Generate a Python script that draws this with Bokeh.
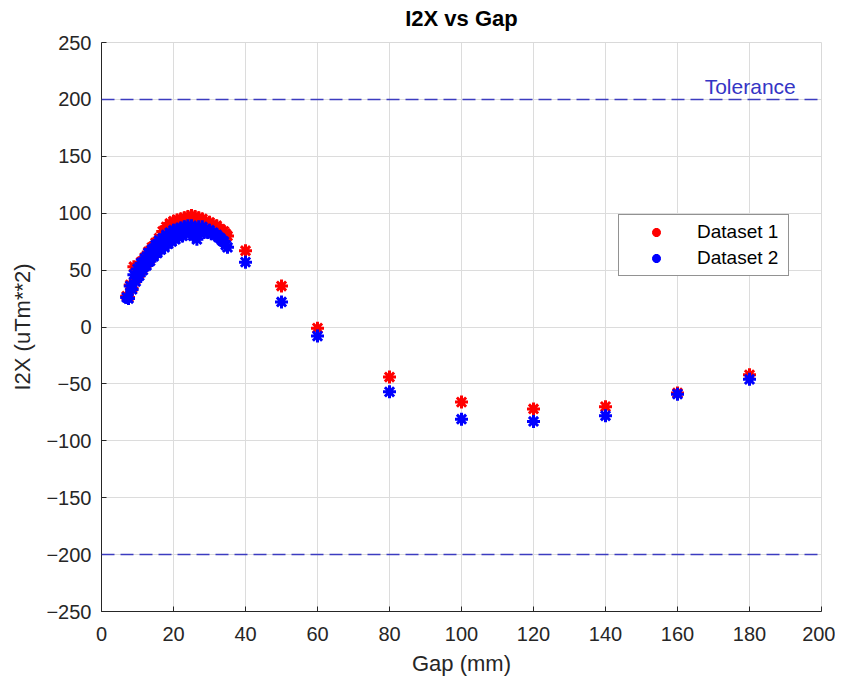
from bokeh.plotting import figure
from bokeh.models import Span, Label, Legend, LegendItem, FixedTicker, Range1d, LinearAxis
from bokeh.embed import file_html
from bokeh.resources import INLINE

# ---- data ----
gap_dense = [7.0, 7.5, 8.0, 8.5, 9.0, 9.5, 10.0, 10.5, 11.0, 11.5, 12.0, 12.5, 13.0, 13.5,
             14.0, 14.5, 15.0, 15.5, 16.0, 16.5, 17.0, 17.5, 18.0, 18.5, 19.0, 19.5, 20.0,
             20.5, 21.0, 21.5, 22.0, 22.5, 23.0, 23.5, 24.0, 24.5, 25.0, 25.5, 26.0, 26.5,
             27.0, 27.5, 28.0, 28.5, 29.0, 29.5, 30.0, 30.5, 31.0, 31.5, 32.0, 32.5, 33.0,
             33.5, 34.0, 34.5, 35.0]
gap_sparse = [40, 50, 60, 80, 100, 120, 140, 160, 180]

d1_dense = [27, 26, 37, 34, 53, 42, 52, 47, 57, 52, 61, 56, 66, 60,
            70, 64, 74, 68, 78, 74, 84, 80, 88, 84, 91, 87, 93,
            89, 94, 90, 95, 91, 96, 92, 97, 93, 98, 94, 97, 93,
            96, 92, 95, 91, 93, 90, 92, 89, 90, 87, 89, 86, 86,
            84, 84, 82, 80]
d2_dense = [26, 25, 36, 33, 46, 40, 51, 45, 56, 50, 60, 54, 65, 58,
            68, 62, 72, 65, 76, 68, 78, 70, 81, 73, 83, 75, 85,
            77, 86, 79, 87, 80, 88, 82, 89, 83, 89, 80, 84, 77,
            88, 82, 88, 83, 86, 83, 85, 82, 83, 81, 81, 79, 78,
            76, 75, 72, 70]
d1_sparse = [67, 36, -1, -44, -66, -72, -70, -58, -42]
d2_sparse = [57, 22, -8, -57, -81, -83, -78, -59, -46]

gap1 = gap_dense + gap_sparse
gap2 = gap_dense + gap_sparse
ds1 = d1_dense + d1_sparse
ds2 = d2_dense + d2_sparse

tolerance = [200, -200]
x_ticks = [0, 20, 40, 60, 80, 100, 120, 140, 160, 180, 200]
y_ticks = [-250, -200, -150, -100, -50, 0, 50, 100, 150, 200, 250]
title_text = "I2X vs Gap"

FONT = "Liberation Sans"
TXT = "#262626"

p = figure(width=835, height=679, output_backend="svg", toolbar_location=None,
           x_range=Range1d(0, 200), y_range=Range1d(-250, 250),
           min_border_left=101, min_border_right=14, min_border_top=42, min_border_bottom=68)

p.outline_line_color = "#d9d9d9"
p.outline_line_width = 1
p.background_fill_color = "white"
p.border_fill_color = "white"

for ax in (p.xaxis[0], p.yaxis[0]):
    ax.major_tick_in = 5
    ax.major_tick_out = 0
    ax.minor_tick_in = 0
    ax.minor_tick_out = 0
    ax.axis_line_color = "#262626"
    ax.axis_line_width = 1
    ax.major_tick_line_color = "#262626"
    ax.major_label_text_font = FONT
    ax.major_label_text_font_size = "20px"
    ax.major_label_text_color = TXT
    ax.axis_label_text_font = FONT
    ax.axis_label_text_font_size = "22px"
    ax.axis_label_text_font_style = "normal"
    ax.axis_label_text_color = TXT

p.xaxis.ticker = FixedTicker(ticks=x_ticks)
p.yaxis.ticker = FixedTicker(ticks=y_ticks)
p.xaxis.axis_label = "Gap (mm)"
p.yaxis.axis_label = "I2X (uTm**2)"
p.xaxis.major_label_standoff = 15
p.yaxis.major_label_standoff = 10
p.xaxis.axis_label_standoff = 7
p.yaxis.axis_label_standoff = 8

# title as the label of an empty axis above the frame
top_axis = LinearAxis(ticker=FixedTicker(ticks=[]), axis_label=title_text,
                      axis_line_alpha=0, major_tick_in=0, major_tick_out=0,
                      minor_tick_in=0, minor_tick_out=0, major_label_text_font_size="0px",
                      major_label_standoff=0, axis_label_standoff=12,
                      axis_label_text_font=FONT, axis_label_text_font_size="22px",
                      axis_label_text_font_style="bold", axis_label_text_color="#000000")
p.add_layout(top_axis, "above")

p.xgrid.ticker = FixedTicker(ticks=x_ticks)
p.ygrid.ticker = FixedTicker(ticks=y_ticks)
p.grid.grid_line_color = "#dcdcdc"
p.grid.grid_line_width = 1

for t in tolerance:
    p.add_layout(Span(location=t, dimension="width", line_color="#3c3cc0",
                      line_width=1.5, line_dash="13 6"))

p.add_layout(Label(x=180.2, y=211.5, text="Tolerance", text_align="center",
                   text_baseline="alphabetic",
                   text_font=FONT, text_font_size="21px", text_color="#3535c5"))

r1 = p.scatter(gap1, ds1, marker="asterisk", size=13, line_color="#ff0000", line_width=3)
r2 = p.scatter(gap2, ds2, marker="asterisk", size=13, line_color="#0000ff", line_width=3)

legend = Legend(items=[LegendItem(label="Dataset 1", renderers=[r1]),
                       LegendItem(label="Dataset 2", renderers=[r2])],
                location=(517, 335), label_text_font=FONT, label_text_font_size="19px",
                label_text_color="#000000", border_line_color="#262626", border_line_width=1,
                glyph_width=62, glyph_height=22, label_height=22, label_width=85,
                label_standoff=10, padding=6, spacing=4,
                margin=0, background_fill_alpha=1)
p.add_layout(legend)

open("out.html", "w").write(file_html(p, INLINE))
